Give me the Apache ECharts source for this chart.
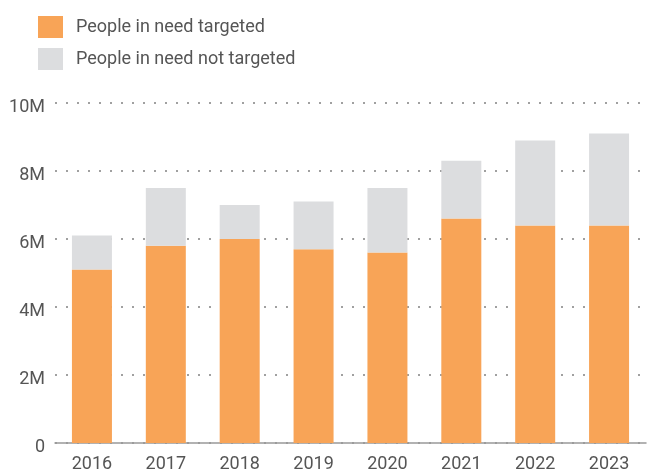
<!DOCTYPE html>
<html>
<head>
<meta charset="utf-8">
<script src="https://cdn.jsdelivr.net/npm/echarts@6/dist/echarts.min.js"></script>
<style>
  html, body { margin: 0; padding: 0; background: #fff; }
  #chart { width: 647px; height: 470px; }
</style>
</head>
<body>
<div id="chart"></div>
<script>
// data (millions of people)
const years = ['2016', '2017', '2018', '2019', '2020', '2021', '2022', '2023'];
const targeted = [5.1, 5.8, 6.0, 5.7, 5.6, 6.6, 6.4, 6.4];
const notTargeted = [1.0, 1.7, 1.0, 1.4, 1.9, 1.7, 2.5, 2.7];
const yTicks = [0, 2, 4, 6, 8, 10];

const chart = echarts.init(document.getElementById('chart'));

const textColor = '#555';
const fontFamily = 'Roboto, sans-serif';

const option = {
  animation: false,
  legend: {
    orient: 'vertical',
    left: 33,
    top: 11,
    itemWidth: 25,
    itemHeight: 22,
    itemGap: 10,
    icon: 'rect',
    textStyle: { fontSize: 18, color: textColor, fontFamily: fontFamily, padding: [0, 0, 0, 8] },
    data: ['People in need targeted', 'People in need not targeted']
  },
  grid: {
    left: 55,
    right: 1,
    top: 103,
    bottom: 27,
    outerBoundsMode: 'none',
    containLabel: false
  },
  xAxis: {
    type: 'category',
    data: years,
    axisTick: { show: false },
    axisLine: { lineStyle: { color: '#999', width: 1.5 } },
    axisLabel: { fontSize: 18, color: textColor, fontFamily: fontFamily, margin: 12 }
  },
  yAxis: {
    type: 'value',
    min: yTicks[0],
    max: yTicks[yTicks.length - 1],
    interval: 2,
    axisLine: { show: false },
    axisTick: { show: false },
    axisLabel: {
      fontSize: 18,
      color: textColor,
      fontFamily: fontFamily,
      margin: 10,
      verticalAlign: 'top',
      lineHeight: 8,
      formatter: v => v === 0 ? '0' : v + 'M'
    },
    splitLine: {
      lineStyle: { color: '#a0a0a0', width: 2, type: [2, 9] }
    }
  },
  series: [
    {
      name: 'People in need targeted',
      type: 'bar',
      stack: 'pin',
      barWidth: 40,
      itemStyle: { color: '#F8A457' },
      data: targeted
    },
    {
      name: 'People in need not targeted',
      type: 'bar',
      stack: 'pin',
      barWidth: 40,
      itemStyle: { color: '#DCDDDF' },
      data: notTargeted
    }
  ]
};

chart.setOption(option);
</script>
</body>
</html>
